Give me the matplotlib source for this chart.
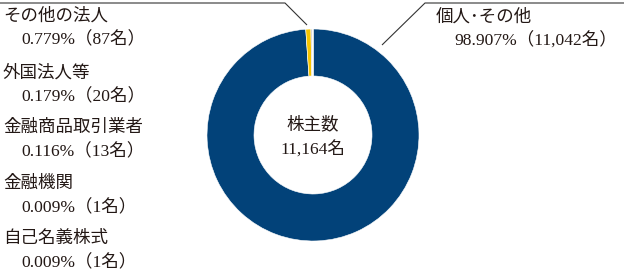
import matplotlib.pyplot as plt

# shareholder composition (percent of shareholders, head count)
categories = ["個人･その他", "その他の法人", "外国法人等", "金融商品取引業者", "金融機関", "自己名義株式"]
percents = [98.907, 0.779, 0.179, 0.116, 0.009, 0.009]
counts = [11042, 87, 20, 13, 1, 1]
total_label = "株主数"
total_count = 11164

NAVY = "#024279"
YELLOW = "#f6c400"
GRAY = "#b4b4b4"
colors = [NAVY, YELLOW, GRAY, GRAY, GRAY, GRAY]
FONT = ["Liberation Serif", "Noto Sans CJK JP"]
TXT = "#231815"

W, H = 624, 276
fig = plt.figure(figsize=(W / 100, H / 100), dpi=100)
ax = fig.add_axes([0, 0, 1, 1])


def py(y):
    # pixel row (from top) -> data y
    return H - y


ax.pie(percents, colors=colors, startangle=90, counterclock=False,
       center=(313, py(135)), radius=106,
       wedgeprops=dict(width=47, edgecolor="white", linewidth=0.4))

ax.set_xlim(0, W)
ax.set_ylim(0, H)
ax.set_aspect("equal")
ax.axis("off")


def label(x, y, cat, pct, n):
    ax.text(x, py(y), cat, family=FONT, fontsize=12.6, color=TXT, va="center", ha="left")
    ax.text(x + 18, py(y + 24), f"{pct:.3f}%（{n:,}名）", family=FONT, fontsize=12.6,
            color=TXT, va="center", ha="left")


# left column: everything except the individual shareholders
left_rows = [16, 73, 128, 184, 239]
for row, cat, pct, n in zip(left_rows, categories[1:], percents[1:], counts[1:]):
    label(3, row, cat, pct, n)

# right label
label(436, 17, categories[0], percents[0], counts[0])

# centre text
ax.text(313, py(125), total_label, family=FONT, fontsize=12.6, color=TXT, ha="center", va="center")
ax.text(313, py(150), f"{total_count:,}名", family=FONT, fontsize=12.6, color=TXT, ha="center", va="center")

# leader lines
ax.plot([0, 285, 307], [py(3), py(3), py(25)], color="#333333", lw=0.8, solid_capstyle="butt")
ax.plot([382, 425, W], [py(45), py(3), py(3)], color="#333333", lw=0.8, solid_capstyle="butt")

fig.savefig("out.png", dpi=100)
